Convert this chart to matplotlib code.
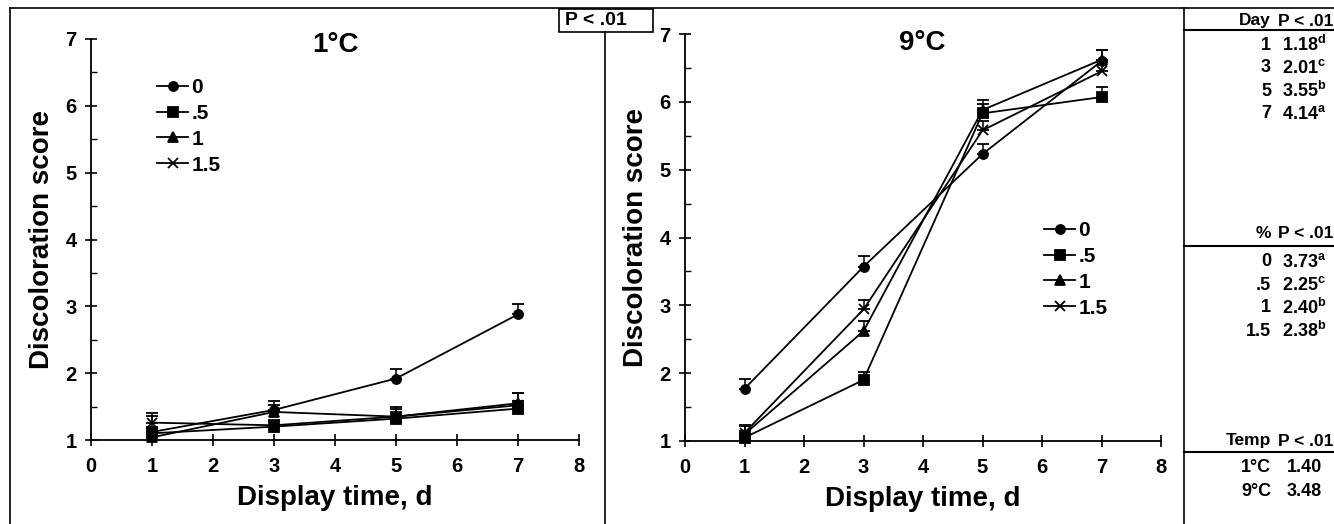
import matplotlib
matplotlib.use("Agg")
import matplotlib.pyplot as plt
from matplotlib.lines import Line2D
from matplotlib.patches import Rectangle

plt.rcParams['font.family'] = ['Liberation Sans', 'DejaVu Sans']
plt.rcParams['font.weight'] = 'bold'
plt.rcParams['mathtext.fontset'] = 'custom'
plt.rcParams['mathtext.bf'] = 'Liberation Sans:bold'
plt.rcParams['mathtext.rm'] = 'Liberation Sans:bold'

# ---------------- data ----------------
days = [1, 3, 5, 7]
levels = ['0', '.5', '1', '1.5']
markers = ['o', 's', '^', 'x']

# 1 °C panel
c1_0 = [1.12, 1.45, 1.92, 2.88]
c1_05 = [1.10, 1.20, 1.32, 1.47]
c1_1 = [1.04, 1.42, 1.35, 1.55]
c1_15 = [1.26, 1.22, 1.35, 1.52]
c1_err0 = [0.28, 0.14, 0.14, 0.15]
c1_err05 = [0.10, 0.08, 0.10, 0.12]
c1_err1 = [0.12, 0.10, 0.14, 0.15]
c1_err15 = [0.10, 0.08, 0.12, 0.18]

# 9 °C panel
c9_0 = [1.77, 3.57, 5.23, 6.60]
c9_05 = [1.05, 1.90, 5.83, 6.07]
c9_1 = [1.10, 2.62, 5.88, 6.62]
c9_15 = [1.12, 2.94, 5.58, 6.45]
c9_err0 = [0.14, 0.16, 0.15, 0.16]
c9_err05 = [0.10, 0.12, 0.14, 0.15]
c9_err1 = [0.12, 0.15, 0.14, 0.14]
c9_err15 = [0.12, 0.14, 0.14, 0.14]

# side table
day_rows = ['1', '3', '5', '7']
day_vals = ['1.18', '2.01', '3.55', '4.14']
day_sup = ['d', 'c', 'b', 'a']
pct_rows = ['0', '.5', '1', '1.5']
pct_vals = ['3.73', '2.25', '2.40', '2.38']
pct_sup = ['a', 'c', 'b', 'b']
temp_rows = ['1°C', '9°C']
temp_vals = ['1.40', '3.48']

W, H = 1334, 524
fig = plt.figure(figsize=(W / 100, H / 100), dpi=100)


def fx(x):
    return x / W


def fy(y):
    return 1 - y / H


def make_axes(x0, x1, y_top, y_bot):
    return fig.add_axes([fx(x0), fy(y_bot), fx(x1) - fx(x0), fy(y_top) - fy(y_bot)])


def style(ax):
    ax.set_xlim(0, 8)
    ax.set_ylim(1, 7)
    ax.set_xticks(range(0, 9))
    ax.set_yticks(range(1, 8))
    ax.set_yticks([i + 0.5 for i in range(1, 7)], minor=True)
    for s in ['top', 'right']:
        ax.spines[s].set_visible(False)
    for s in ['left', 'bottom']:
        ax.spines[s].set_linewidth(1.3)
    ax.tick_params(axis='both', which='major', direction='inout', length=9,
                   width=1.2, labelsize=14.5)
    ax.tick_params(axis='x', which='major', pad=8)
    ax.tick_params(axis='y', which='major', pad=6)
    ax.tick_params(axis='y', which='minor', direction='in', length=4, width=1.0)
    for lab in ax.get_xticklabels() + ax.get_yticklabels():
        lab.set_fontweight('bold')
    ax.set_xlabel('Display time, d', fontsize=20, fontweight='bold', labelpad=6)
    ax.set_ylabel('Discoloration score', fontsize=20, fontweight='bold', labelpad=7)
    ax.patch.set_alpha(0)


def plot_series(ax, series, errs):
    for vals, err, m in zip(series, errs, markers):
        ax.errorbar(days, vals, yerr=[[0] * len(err), err], color='black',
                    marker=m, markersize=6.5 if m != 'x' else 7.5,
                    markeredgewidth=1.3, linewidth=1.3, elinewidth=1.1,
                    capsize=4, capthick=1.1, clip_on=False, zorder=3)


def add_legend(x_px, y_px):
    handles = [Line2D([0], [0], color='black', marker=m, linewidth=1.3,
                      markersize=6.5 if m != 'x' else 7.5, markeredgewidth=1.3)
               for m in markers]
    fig.legend(handles, levels, loc='upper left',
               bbox_to_anchor=(fx(x_px), fy(y_px)),
               frameon=False, prop={'weight': 'bold', 'size': 15},
               handlelength=1.5, handletextpad=0.15, labelspacing=0.33,
               borderpad=0, borderaxespad=0)


# left panel (1 °C)
ax1 = make_axes(91, 579, 39, 440)
style(ax1)
plot_series(ax1, [c1_0, c1_05, c1_1, c1_15], [c1_err0, c1_err05, c1_err1, c1_err15])
add_legend(157, 78)
fig.text(fx(335), fy(45), '1°C', ha='center', va='center', fontsize=20, fontweight='bold')

# right panel (9 °C)
ax2 = make_axes(685, 1161, 34, 441)
style(ax2)
plot_series(ax2, [c9_0, c9_05, c9_1, c9_15], [c9_err0, c9_err05, c9_err1, c9_err15])
add_legend(1044, 221)
fig.text(fx(922), fy(43), '9°C', ha='center', va='center', fontsize=20, fontweight='bold')

# frame lines
lw = 1.2
fig.add_artist(Line2D([fx(10), fx(1334)], [fy(8), fy(8)], color='black', lw=lw))
fig.add_artist(Line2D([fx(10), fx(10)], [fy(8), fy(524)], color='black', lw=lw))
fig.add_artist(Line2D([fx(605), fx(605)], [fy(32), fy(524)], color='black', lw=lw))
fig.add_artist(Line2D([fx(1184), fx(1184)], [fy(8), fy(524)], color='black', lw=lw))
fig.add_artist(Rectangle((fx(559), fy(32)), fx(653) - fx(559), fy(9) - fy(32),
                         transform=fig.transFigure, fill=True, facecolor='white',
                         edgecolor='black', lw=lw))
fig.text(fx(565), fy(20.5), 'P < .01', ha='left', va='center', fontsize=14,
         fontweight='bold')

# side table
tfs = 12.5
col1_x = 1271
col2_x = 1278


def header(label, y, line_y):
    fig.text(fx(col1_x), fy(y), label, ha='right', va='center', fontsize=tfs, fontweight='bold')
    fig.text(fx(col2_x), fy(y), 'P < .01', ha='left', va='center', fontsize=tfs, fontweight='bold')
    fig.add_artist(Line2D([fx(1184), fx(1334)], [fy(line_y), fy(line_y)], color='black', lw=1.5))


def rows(labels, vals, sups, y0, dy, vx):
    for i, (lab, v) in enumerate(zip(labels, vals)):
        y = y0 + i * dy
        fig.text(fx(col1_x), fy(y), lab, ha='right', va='center', fontsize=tfs + 0.5, fontweight='bold')
        txt = v if sups is None else v + r'$^{\mathbf{' + sups[i] + '}}$'
        fig.text(fx(vx), fy(y), txt, ha='left', va='center', fontsize=tfs + 0.5, fontweight='bold')


header('Day', 21, 30)
rows(day_rows, day_vals, day_sup, 45, 23, 1282)
header('%', 234, 246)
rows(pct_rows, pct_vals, pct_sup, 262, 23, 1282)
header('Temp', 441, 452)
rows(temp_rows, temp_vals, None, 467, 24, 1287)

fig.savefig('out.png', dpi=100)
